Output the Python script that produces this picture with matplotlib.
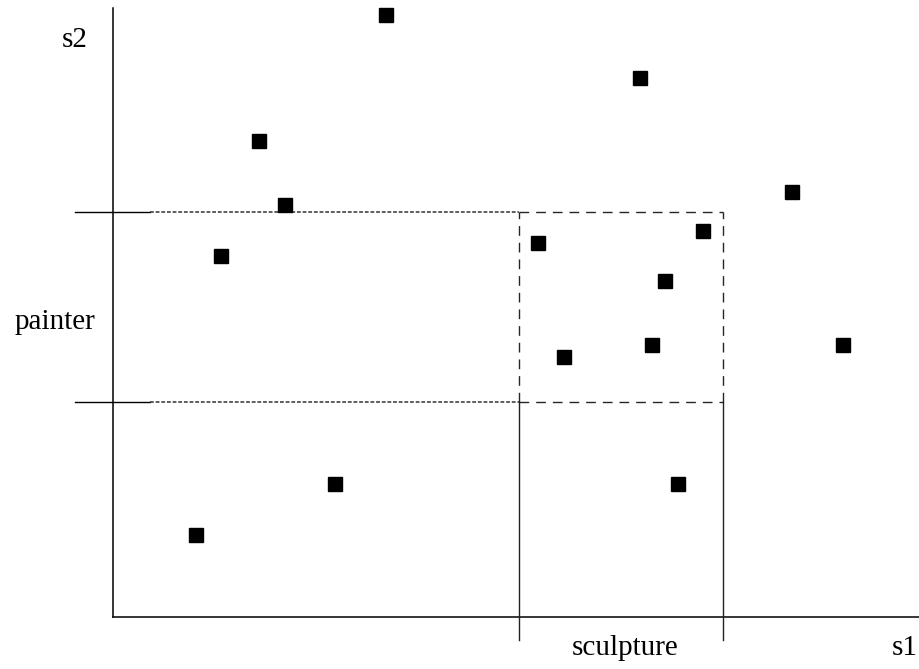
import matplotlib
matplotlib.use("Agg")
import matplotlib.pyplot as plt

# points (s1, s2), 1 unit = 10 px in the reference
s1 = [27.3, 52.7, 14.6, 67.9, 17.2, 10.8, 42.5, 59.0, 55.2, 45.1, 53.9, 73.0, 22.2, 56.5, 8.3]
s2 = [60.2, 53.9, 47.6, 42.5, 41.2, 36.1, 37.4, 38.6, 33.6, 26.0, 27.2, 27.2, 13.3, 13.3, 8.2]

# painter range on s2, sculpture range on s1
painter = [21.5, 40.5]
sculpture = [40.6, 61.0]

plt.rcParams["font.family"] = ["Liberation Serif", "DejaVu Serif"]

fig = plt.figure(figsize=(9.2, 6.69), dpi=100)
ax = fig.add_axes([0, 0, 1, 1])
ax.set_xlim(-11.3, 80.7)
ax.set_ylim(-5.2, 61.7)
ax.axis("off")

# axes lines
ax.plot([0, 0], [0, 60.9], color="black", lw=1.1)
ax.plot([0, 80.7], [0, 0], color="black", lw=1.1)

# painter lines
for y in painter:
    ax.plot([-3.8, 3.7], [y, y], color="black", lw=1.0)
    ax.plot([3.7, sculpture[0]], [y, y], color="#333333", lw=1.1, ls=(0, (2.5, 1.2)))
    ax.plot([sculpture[0], sculpture[1]], [y, y], color="black", lw=1.0, ls=(0, (7, 5)), alpha=0.85)

# sculpture lines
for x in sculpture:
    ax.plot([x, x], [painter[0], painter[1]], color="black", lw=1.0, ls=(0, (7, 5)), alpha=0.85)
    ax.plot([x, x], [-2.3, painter[0]], color="#222222", lw=1.0)

ax.plot(s1, s2, ls="none", marker="s", ms=9.4, color="black")

ax.text(-3.8, 57.7, "s2", fontsize=21, ha="center", va="center")
ax.text(-5.8, 29.5, "painter", fontsize=21, ha="center", va="center")
ax.text(51.2, -3.1, "sculpture", fontsize=21, ha="center", va="center")
ax.text(79.2, -3.1, "s1", fontsize=21, ha="center", va="center")

fig.savefig("out.png", dpi=100)
